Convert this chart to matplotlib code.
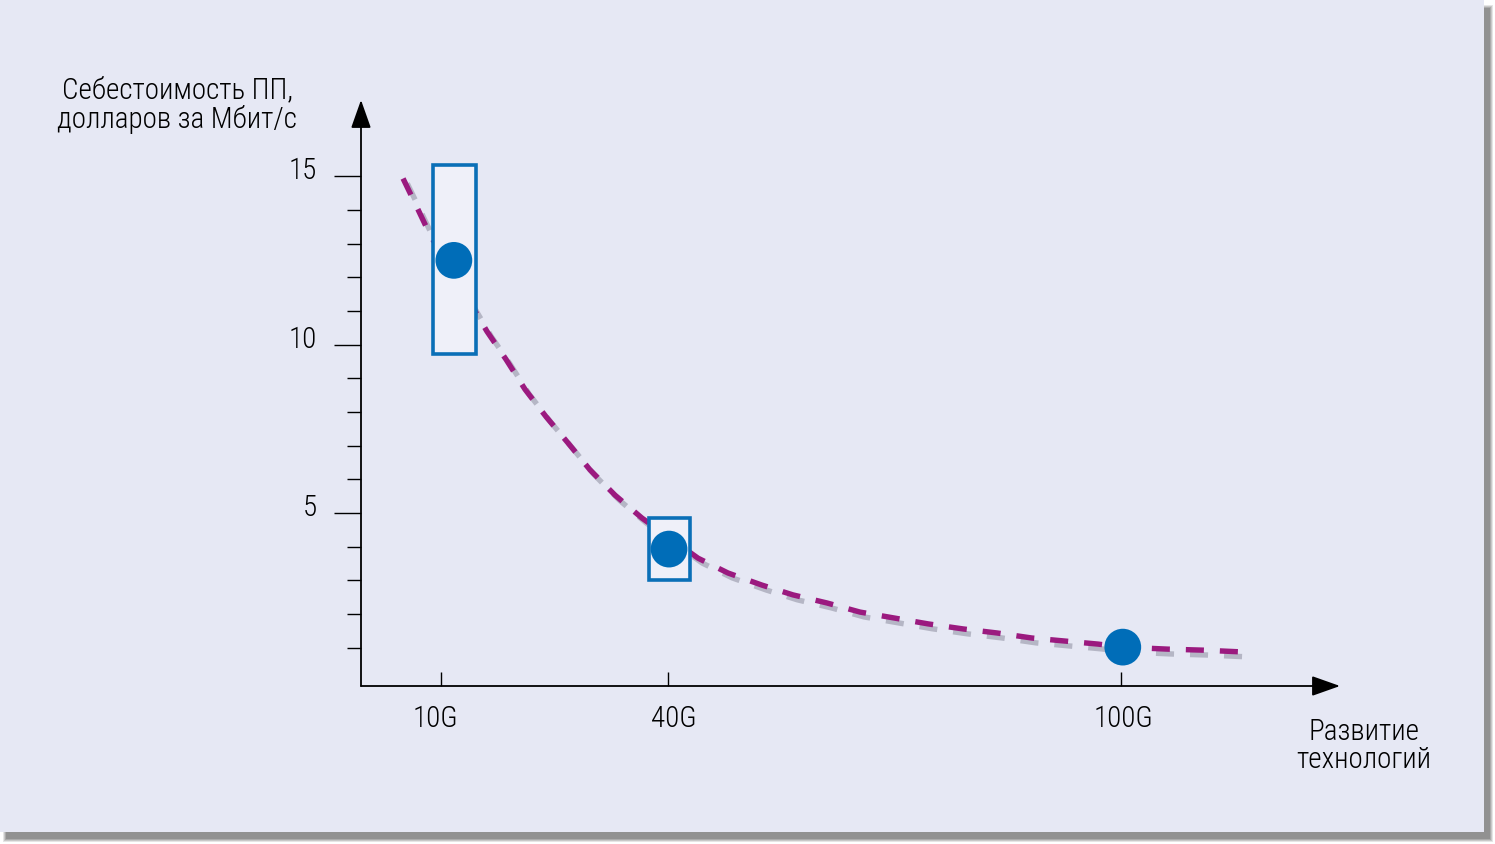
import numpy as np
import matplotlib.pyplot as plt
import matplotlib.patheffects as pe
from matplotlib.patches import Rectangle
from matplotlib.transforms import ScaledTranslation

plt.rcParams['font.family'] = ['Roboto Condensed', 'DejaVu Sans']
plt.rcParams['font.weight'] = 'light'
plt.rcParams['lines.scale_dashes'] = False

# --- data ---
techs = ['10G', '40G', '100G']
tech_pos = [10, 40, 100]
point_x = [11.7, 40.2, 100.3]
point_y = [12.5, 3.93, 1.02]
box_x = [(9.0, 14.57), (37.48, 42.98)]      # spread boxes (left, right)
box_y = [(9.72, 15.33), (3.0, 4.84)]        # (bottom, top)
curve_x = [4.97, 6.95, 8.54, 16.09, 18.61, 21.13, 23.91, 26.82, 29.74, 33.05,
           36.62, 44.04, 48.01, 52.52, 56.62, 61.13, 65.5, 70.13, 74.5, 79.14,
           83.64, 88.28, 92.65, 97.02, 100.33, 106.29, 110.93, 115.83]
curve_y = [14.93, 14.01, 13.26, 10.39, 9.56, 8.67, 7.86, 7.08, 6.28, 5.53,
           4.85, 3.66, 3.22, 2.86, 2.57, 2.33, 2.06, 1.88, 1.71, 1.56,
           1.44, 1.29, 1.20, 1.11, 1.02, 0.96, 0.93, 0.88]
yticks_major = [5, 10, 15]
yticks_minor = [1, 2, 3, 4, 6, 7, 8, 9, 11, 12, 13, 14]
xlabel_shift = [-5.5, 6, 3]   # px, label nudges

ylabel_text = 'Себестоимость ПП,\nдолларов за Мбит/с'
xlabel_text = 'Развитие\nтехнологий'

W, H = 1495, 844
FS = 21
fig = plt.figure(figsize=(W / 100, H / 100), dpi=100)
fig.patch.set_facecolor('white')

def frac(x0, y0, x1, y1):
    # pixel box (top-left origin) -> figure fraction rectangle args
    return (x0 / W, 1 - y1 / H), (x1 - x0) / W, (y1 - y0) / H

# panel shadow (soft) + panel
for i, a in enumerate([0.15, 0.2, 0.25, 0.3]):
    xy, w, h = frac(3 + i, 5 + i, 1493 - i, 842 - i)
    fig.add_artist(Rectangle(xy, w, h, transform=fig.transFigure,
                             fc='#555555', ec='none', alpha=a, zorder=-11))
xy, w, h = frac(0, 0, 1484, 832)
fig.add_artist(Rectangle(xy, w, h, transform=fig.transFigure,
                         fc='#e6e8f4', ec='none', zorder=-10))

ax = fig.add_axes([361 / W, 1 - 686 / H, (1340 - 361) / W, (686 - 100) / H])
ax.set_facecolor('none')
ax.set_xlim(-0.6, 129.07)
ax.set_ylim(-0.134, 17.26)
for s in ax.spines.values():
    s.set_visible(False)

# axes with arrows
arrow = dict(arrowstyle='-|>,head_length=1.75,head_width=0.62', lw=1.3,
             color='black', shrinkA=0, shrinkB=0)
ax.annotate('', xy=(0, 1), xytext=(0, 0), xycoords='axes fraction', arrowprops=arrow)
ax.annotate('', xy=(1, 0), xytext=(0, 0), xycoords='axes fraction', arrowprops=arrow)

# dashed trend curve with shadow
ax.plot(curve_x, curve_y, color='#9b1a7f', lw=3.9, dashes=(13, 11.5),
        dash_capstyle='butt', zorder=2,
        path_effects=[pe.SimpleLineShadow(offset=(3, -3.5), shadow_color='#45455a', alpha=0.3),
                      pe.Normal()])

# boxes
for (x0, x1), (y0, y1) in zip(box_x, box_y):
    ax.add_patch(Rectangle((x0, y0), x1 - x0, y1 - y0, fc='#eff0f9',
                           ec='#0a6fb7', lw=2.6, zorder=3))

ax.scatter(point_x, point_y, s=700, color='#006db8', edgecolors='none', zorder=4)

# ticks
ax.set_yticks(yticks_major)
ax.set_yticks(yticks_minor, minor=True)
ax.tick_params(axis='y', which='major', direction='out', length=19.5, width=1,
               pad=12.5, labelsize=FS)
ax.tick_params(axis='y', which='minor', direction='out', length=10, width=1)
for lab in ax.get_yticklabels():
    lab.set_transform(lab.get_transform() + ScaledTranslation(0, 8 / 100, fig.dpi_scale_trans))

ax.set_xticks(tech_pos, techs)
ax.tick_params(axis='x', which='major', direction='in', length=10, width=1,
               pad=13.5, labelsize=FS)
for lab, dx in zip(ax.get_xticklabels(), xlabel_shift):
    lab.set_transform(lab.get_transform() + ScaledTranslation(dx / 100, 0, fig.dpi_scale_trans))

fig.text(177 / W, 1 - 105 / H, ylabel_text, ha='center', va='center',
         fontsize=FS, linespacing=1.02)
fig.text(1364 / W, 1 - 746 / H, xlabel_text, ha='center', va='center',
         fontsize=FS, linespacing=1.0)

fig.savefig('out.png', dpi=100)
